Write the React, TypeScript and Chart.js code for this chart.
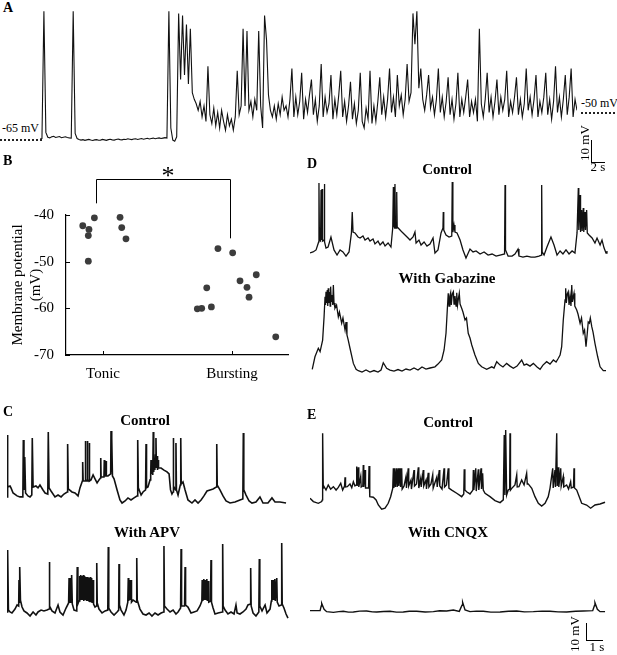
import React, { useEffect, useRef } from "react";
import { Chart, registerables } from "chart.js";

Chart.register(...registerables);

const SERIF = "'Liberation Serif', 'Times New Roman', Times, serif";
Chart.defaults.font.family = SERIF;
Chart.defaults.color = "#000";

type Pt = [number, number];

// ---------- Panel A: membrane potential (mV) sampled every A_DT seconds ----------
const A_DT = 0.3;
const traceA: number[] = [
  -65, -64.8, -7, -62,
  -64.2, -64.5, -64, -63.8, -64.3, -64.1, -63.9, -64.4, -64.2, -64, -64.3, -64.5, -64.6,
  -7, -62.5,
  -64.8, -65.2, -65.5, -65.3, -65.6, -65.4, -65.2, -65.5, -65.7, -65.4,
  -65.3, -65.6, -65.5, -65.2, -65.4, -65.6, -65.3, -65.1, -65.4, -65.5,
  -65.2, -65.0, -65.3, -65.4, -65.1, -65.2, -64.9, -65.1, -65.3, -65.0,
  -64.9, -65.2, -65.0, -64.8, -65.1, -64.9, -64.7, -65.0, -64.8, -64.6,
  -64.9, -64.7, -64.5, -64.8, -64.6, -64.4, -64.6,
  -7, -60, -65.5, -66, -64,
  -8, -38, -9, -36, -13, -40, -15, -44, -47,
  -49, -52, -48, -55, -50, -57, -32, -54, -58, -51,
  -59, -53, -60, -52, -57, -61, -54, -59, -56, -61,
  -55, -34, -54, -50, -15, -50, -16, -52, -48, -55,
  -47, -52, -16, -50, -60, -9, -20, -45, -52, -55,
  -50, -56, -49, -54, -46, -52, -50, -55,
  -47, -33, -55, -46, -54, -48, -35, -56, -47, -53,
  -45, -38, -54, -47, -57, -50, -31, -55, -46, -53,
  -49, -36, -56, -47, -54, -45, -34, -55, -48, -57,
  -50, -39, -56, -49, -58, -52, -35, -57, -60, -51,
  -56, -34, -58, -50, -57, -48, -37, -54, -46, -55,
  -47, -33, -53, -46, -55, -36, -50, -45, -54, -47,
  -31, -48, -44, -8, -22, -7, -42, -33, -47, -52,
  -45, -36, -51, -46, -54, -47, -33, -53, -46, -55,
  -48, -37, -54, -47, -56, -49, -35, -55, -47, -53,
  -46, -38, -55, -48, -53, -47, -57, -15, -49, -55,
  -47, -35, -53, -46, -55, -48, -38, -54, -46, -52,
  -47, -34, -55, -48, -53, -46, -37, -54, -47, -55,
  -49, -33, -52, -46, -54, -47, -36, -55, -48, -53,
  -46, -35, -54, -47, -56, -48, -32, -53, -46, -55,
  -47, -36, -54, -46, -33, -55, -47, -52,
];

// ---------- Panel B: resting membrane potential per cell ----------
const bCategories = ["Tonic", "Bursting"];
const bTicks = [-70, -60, -50, -40];
const tonicX = [0.843, 0.891, 0.886, 0.933, 0.886, 1.132, 1.145, 1.178];
const tonicY = [-42.3, -43.1, -44.4, -40.6, -49.9, -40.5, -42.7, -45.1];
const burstX = [1.731, 1.765, 1.804, 1.84, 1.891, 2.005, 2.062, 2.116, 2.132, 2.188, 2.339];
const burstY = [-60.1, -60.0, -55.6, -59.7, -47.2, -48.1, -54.1, -55.5, -57.6, -52.8, -66.1];
const bracketX = [0.946, 1.984];
const bracketY = [-37.5, -32.3, -45.0];

// ---------- Panels C, D, E: [time (s), mV] ----------
const cControl: Pt[] = [
  [0,-58.2],[0.02,-21.8],[0.06,-52.4],[0.19,-51.8],[0.25,-52.9],[0.38,-55.9],[0.63,-57.6],[0.81,-58.2],[0.99,-58.2],[1.02,-24.7],[1.06,-54.1],[1.11,-34.7],[1.16,-55.9],[1.31,-57.6],[1.44,-58.2],[1.55,-57.1],[1.58,-23.5],[1.63,-52.4],[1.81,-51.8],[1.94,-52.9],[2.06,-51.2],[2.25,-54.1],[2.38,-55.9],[2.55,-56.5],[2.58,-20],[2.63,-52.9],[2.75,-54.7],[3.0,-58.2],[3.19,-57.1],[3.38,-58.2],[3.56,-56.5],[3.76,-55.3],[3.79,-27.1],[3.83,-53.5],[4.06,-55.3],[4.25,-55.9],[4.44,-57.6],[4.56,-52.9],[4.71,-48.8],[4.73,-37.6],[4.76,-48.8],[4.88,-48.8],[4.89,-25.3],[4.93,-48.2],[5.0,-48.8],[5.02,-25.3],[5.05,-48.2],[5.13,-48.8],[5.14,-26.5],[5.17,-48.8],[5.25,-48.2],[5.38,-45.3],[5.5,-47.6],[5.63,-50],[5.75,-48.2],[5.84,-47.1],[5.86,-35.3],[5.88,-46.5],[6.06,-46.5],[6.08,-36.5],[6.11,-45.9],[6.17,-45.9],[6.19,-37.1],[6.21,-45.9],[6.31,-45.9],[6.48,-44.7],[6.5,-19.4],[6.53,-43.5],[6.56,-23.5],[6.59,-45.9],[6.69,-47.6],[6.88,-54.1],[7.06,-60],[7.19,-61.8],[7.38,-60.6],[7.56,-58.8],[7.75,-60],[7.94,-58.8],[8.14,-57.6],[8.17,-24.7],[8.21,-52.9],[8.38,-57.1],[8.5,-55.3],[8.66,-54.1],[8.69,-27.1],[8.72,-52.9],[8.81,-52.4],[8.94,-48.2],[8.98,-45.9],[9.0,-36.5],[9.03,-44.7],[9.08,-37.6],[9.11,-45.3],[9.14,-20],[9.17,-43.5],[9.21,-35.3],[9.24,-42.4],[9.28,-33.5],[9.31,-23.5],[9.34,-41.2],[9.38,-34.1],[9.41,-42.4],[9.44,-36.5],[9.47,-41.2],[9.63,-41.2],[9.81,-42.4],[10.0,-43.5],[10.13,-44.7],[10.22,-54.1],[10.31,-56.5],[10.38,-55.3],[10.39,-23.5],[10.42,-51.8],[10.53,-54.1],[10.56,-26.5],[10.59,-54.1],[10.69,-57.1],[10.83,-51.2],[10.86,-23.5],[10.89,-50.6],[11.0,-49.4],[11.13,-54.1],[11.31,-60],[11.56,-61.8],[11.75,-60],[11.94,-61.8],[12.13,-60],[12.31,-57.6],[12.5,-54.7],[12.69,-54.1],[12.88,-53.5],[13.08,-52.4],[13.11,-27.1],[13.14,-51.2],[13.31,-54.1],[13.5,-57.6],[13.69,-60.6],[13.94,-61.8],[14.25,-61.2],[14.56,-60],[14.74,-59.4],[14.77,-20.6],[14.8,-54.1],[14.94,-57.1],[15.13,-60.6],[15.31,-61.8],[15.56,-61.2],[15.81,-58.2],[16.0,-61.8],[16.31,-61.8],[16.56,-58.8],[16.75,-61.2],[17.06,-61.2],[17.44,-61.8],
];

const cApv: Pt[] = [
  [0,-58.2],[0.04,-21.8],[0.09,-57.1],[0.19,-58.2],[0.31,-58.8],[0.5,-56.5],[0.63,-54.1],[0.73,-54.7],[0.75,-39.4],[0.78,-52.9],[0.81,-31.8],[0.84,-51.2],[0.94,-55.3],[1.06,-57.6],[1.25,-58.8],[1.44,-60.6],[1.63,-58.2],[1.81,-60],[1.94,-58.2],[2.13,-57.1],[2.31,-57.6],[2.5,-57.1],[2.63,-56.5],[2.64,-28.8],[2.68,-54.7],[2.81,-57.6],[3.0,-58.8],[3.19,-54.1],[3.31,-58.2],[3.5,-60],[3.69,-55.9],[3.85,-52.9],[3.88,-38.2],[3.9,-52.9],[3.97,-38.2],[4.0,-52.4],[4.04,-36.5],[4.08,-53.5],[4.19,-57.1],[4.36,-57.6],[4.39,-31.8],[4.43,-53.5],[4.5,-51.8],
  [4.53,-37.1],[4.56,-51.8],[4.61,-36.5],[4.64,-51.2],[4.69,-37.1],[4.72,-51.2],[4.77,-36.5],[4.8,-51.8],[4.85,-37.1],[4.88,-51.2],[4.94,-37.6],[4.97,-51.8],[5.03,-37.6],[5.06,-51.8],[5.11,-38.2],[5.14,-52.4],[5.2,-37.6],[5.23,-52.4],[5.29,-38.2],[5.32,-52.9],[5.38,-39.4],[5.41,-53.5],[5.5,-55.3],[5.58,-54.7],[5.61,-29.4],[5.64,-52.9],[5.75,-56.5],[5.94,-58.8],[6.13,-57.6],[6.3,-57.1],[6.33,-20],[6.36,-55.9],[6.5,-58.2],[6.69,-60],[6.88,-58.2],[6.98,-57.1],[7.0,-30],[7.03,-54.1],[7.13,-57.1],[7.31,-60],[7.44,-57.1],[7.55,-52.4],[7.58,-38.2],[7.61,-51.8],[7.66,-39.4],[7.7,-51.2],[7.75,-39.4],[7.78,-52.4],[7.88,-51.2],[8.08,-52.4],[8.11,-26.5],[8.14,-51.2],[8.31,-56.5],[8.5,-59.4],[8.69,-60],[8.88,-58.8],[9.06,-60.6],[9.25,-58.8],[9.44,-60],[9.63,-58.8],[9.79,-58.2],[9.81,-19.4],[9.84,-54.7],[10.0,-56.5],[10.19,-58.2],[10.38,-57.1],[10.56,-59.4],[10.69,-58.2],[10.85,-55.9],[10.88,-21.2],[10.91,-54.7],[11.1,-54.7],[11.13,-31.8],[11.16,-54.1],[11.31,-55.3],[11.5,-58.8],[11.69,-58.2],[11.88,-57.6],[12.06,-54.7],[12.18,-51.8],[12.2,-39.4],[12.24,-51.8],[12.3,-38.8],[12.33,-51.2],[12.39,-39.4],[12.42,-51.2],[12.49,-38.8],[12.52,-51.8],[12.58,-40],[12.61,-52.4],[12.72,-51.8],[12.75,-27.6],[12.78,-52.4],[12.88,-55.9],[13.0,-59.4],[13.19,-58.8],[13.46,-58.2],[13.48,-18.2],[13.51,-54.7],[13.63,-57.1],[13.81,-59.4],[14.0,-58.2],[14.19,-59.4],[14.31,-54.1],[14.38,-58.8],[14.56,-59.4],[14.75,-58.2],[14.94,-56.5],[15.06,-54.1],[15.21,-53.5],[15.23,-32.4],[15.26,-54.7],[15.38,-58.8],[15.56,-60.6],[15.74,-58.2],[15.77,-27.1],[15.8,-54.7],[15.94,-57.6],[16.13,-54.1],[16.25,-58.8],[16.44,-56.5],[16.52,-51.8],[16.55,-39.4],[16.58,-51.2],[16.64,-39.4],[16.67,-51.2],[16.74,-38.8],[16.77,-51.8],[16.86,-38.2],[16.89,-52.4],[17.0,-54.7],[17.14,-54.1],[17.17,-17.6],[17.2,-53.5],[17.31,-55.9],[17.44,-59.4],[17.56,-61.8],
];

const dControl: Pt[] = [
  [0,-59.4],[0.19,-58.8],[0.38,-57.6],[0.54,-52.9],[0.56,-18.2],[0.59,-51.8],[0.66,-52.4],[0.69,-22.4],[0.72,-51.8],[0.75,-21.8],[0.79,-52.4],[0.88,-51.8],[0.89,-18.8],[0.93,-52.9],[1.0,-56.5],[1.13,-55.9],[1.31,-50],[1.5,-57.6],[1.69,-60.6],[1.88,-57.6],[2.06,-58.8],[2.25,-61.2],[2.44,-58.8],[2.59,-47.6],[2.64,-35.3],[2.69,-47.1],[2.81,-47.6],[3.0,-50],[3.13,-50.6],[3.31,-49.4],[3.44,-51.8],[3.63,-50.6],[3.75,-52.4],[3.94,-51.2],[4.06,-54.1],[4.25,-52.4],[4.38,-54.7],[4.56,-52.9],[4.69,-55.3],[4.88,-53.5],[5.06,-55.9],[5.17,-44.7],[5.21,-20.6],[5.24,-43.5],[5.29,-44.7],[5.31,-18.8],[5.34,-42.9],[5.39,-44.7],[5.42,-23.5],[5.45,-44.1],[5.63,-45.9],[5.75,-47.1],[5.94,-48.8],[6.13,-50.6],[6.25,-51.8],[6.44,-50],[6.56,-47.1],[6.63,-53.5],[6.81,-51.8],[6.94,-54.7],[7.13,-52.9],[7.31,-55.3],[7.5,-54.1],[7.69,-50.6],[7.81,-59.4],[8.0,-57.6],[8.19,-47.6],[8.31,-44.7],[8.33,-35.3],[8.36,-45.9],[8.5,-48.8],[8.69,-50],[8.86,-49.4],[8.89,-17.6],[8.93,-47.1],[9.0,-42.9],[9.06,-47.1],[9.19,-47.6],[9.38,-51.8],[9.56,-57.6],[9.75,-62.4],[10.0,-57.1],[10.19,-58.8],[10.38,-58.2],[10.63,-60],[10.88,-58.8],[11.13,-60.6],[11.38,-60],[11.63,-61.2],[11.88,-60.6],[12.16,-60],[12.19,-19.4],[12.22,-57.6],[12.38,-61.2],[12.63,-61.2],[12.81,-60],[13.0,-57.1],[13.06,-61.2],[13.31,-61.8],[13.56,-61.2],[13.81,-61.8],[14.06,-61.8],[14.31,-61.2],[14.46,-60.6],[14.48,-19.4],[14.51,-58.8],[14.63,-60.6],[14.81,-55.9],[15.06,-50],[15.25,-54.7],[15.44,-60.6],[15.63,-58.2],[15.81,-60],[16.0,-57.6],[16.19,-60],[16.38,-58.2],[16.56,-59.4],[16.69,-47.6],[16.77,-21.2],[16.8,-45.9],[16.88,-25.3],[16.91,-47.1],[16.98,-34.1],[17.01,-46.5],[17.08,-32.9],[17.11,-47.1],[17.19,-35.3],[17.22,-45.9],[17.29,-34.1],[17.33,-47.6],[17.44,-48.8],[17.63,-50.6],[17.81,-53.5],[17.94,-50.6],[18.13,-54.7],[18.25,-51.8],[18.38,-56.5],[18.5,-59.4],[18.56,-58.2],
];

const dGabazine: Pt[] = [
  [0.14,-59],[0.31,-51.6],[0.52,-46.6],[0.63,-48.6],[0.79,-41.8],[0.88,-28.1],[0.94,-16.3],[0.97,-21.2],[1.0,-13.4],[1.04,-20],[1.08,-12.4],[1.11,-21.8],[1.14,-11.4],[1.18,-20],[1.23,-13.5],[1.26,-21.8],[1.29,-10.4],[1.33,-19.4],[1.38,-15.3],[1.42,-21.2],[1.46,-9.4],[1.5,-20],[1.56,-23.1],[1.66,-21.2],[1.77,-28.1],[1.84,-25.3],[1.98,-31.9],[2.06,-28.8],[2.19,-35.9],[2.25,-31.2],[2.31,-38.8],[2.39,-41.8],[2.5,-46.6],[2.71,-55.5],[2.88,-59],[3.02,-59.8],[3.25,-60.6],[3.5,-59.4],[3.75,-60.6],[4.0,-59.7],[4.25,-60.6],[4.44,-59.4],[4.58,-55.1],[4.79,-58.4],[5.0,-59.4],[5.25,-60],[5.5,-59.1],[5.75,-60],[6.0,-58.8],[6.25,-59.4],[6.5,-58.2],[6.75,-59.4],[7.0,-57.6],[7.25,-58.8],[7.5,-58.2],[7.81,-57.5],[8.0,-55.9],[8.23,-53.5],[8.38,-47.6],[8.5,-37.8],[8.58,-24.1],[8.64,-14.3],[8.69,-21.8],[8.74,-15.9],[8.79,-14],[8.83,-21.2],[8.89,-14.7],[8.96,-13.4],[9.0,-20.6],[9.06,-15.9],[9.13,-21.8],[9.17,-14],[9.22,-21.2],[9.28,-17.1],[9.33,-14.3],[9.38,-20.6],[9.48,-23.1],[9.56,-25.3],[9.69,-30],[9.78,-28.8],[9.89,-37.8],[10.0,-40.6],[10.11,-44.7],[10.31,-50.6],[10.52,-55.5],[10.73,-57.5],[11.04,-59],[11.36,-57.5],[11.5,-58.2],[11.67,-54.5],[11.88,-56.5],[12.06,-57.6],[12.29,-55.5],[12.5,-57.1],[12.71,-58.4],[12.94,-57.1],[13.23,-53.5],[13.38,-56.5],[13.54,-55.9],[13.75,-57.1],[13.96,-55.5],[14.19,-57.6],[14.38,-59],[14.56,-56.5],[14.79,-54.5],[15.0,-55.9],[15.21,-53.5],[15.38,-54.7],[15.52,-52.5],[15.63,-50.6],[15.73,-45.7],[15.83,-30],[15.94,-18.2],[15.98,-11.4],[16.02,-20],[16.08,-14.7],[16.14,-13.4],[16.19,-21.2],[16.25,-15.9],[16.31,-21.8],[16.36,-9.4],[16.4,-19.4],[16.45,-16.5],[16.5,-14.3],[16.55,-21.8],[16.67,-24.1],[16.75,-26.5],[16.88,-31.9],[16.97,-28.8],[17.08,-37.8],[17.16,-35.9],[17.25,-45.7],[17.33,-37.8],[17.39,-31.2],[17.46,-31.9],[17.52,-28.8],[17.61,-33.9],[17.69,-37.1],[17.81,-43.7],[17.98,-51.6],[18.13,-57.5],[18.33,-59.8],[18.5,-59.8],
];

const eControl: Pt[] = [
  [0,-57.2],[0.21,-59.2],[0.52,-60.2],[0.73,-59.2],[0.77,-58.2],[0.79,-19],[0.83,-51.2],[0.88,-50.4],[1.0,-52.4],[1.14,-49.4],[1.29,-51.9],[1.46,-50.4],[1.63,-52.4],[1.77,-50.8],[1.92,-48.4],[2.04,-52.4],[2.16,-50],[2.19,-44.9],[2.22,-50.6],[2.33,-50.4],[2.5,-48.8],[2.61,-51],[2.71,-47.5],[2.81,-50],[2.89,-49.4],[2.92,-38.6],[2.95,-50],[3.02,-39],[3.05,-50.6],[3.17,-44.5],[3.2,-50.6],[3.3,-50],[3.33,-37.6],[3.36,-50.6],[3.44,-40.6],[3.47,-51.2],[3.66,-51.2],[3.69,-38.2],[3.72,-53.5],[3.75,-56.3],[3.96,-56.6],[4.13,-58.2],[4.27,-61.2],[4.48,-63.7],[4.69,-63.1],[4.89,-60.2],[5.04,-56.3],[5.17,-51.4],[5.21,-39.6],[5.24,-51.2],[5.31,-39.6],[5.34,-50.6],[5.42,-39.6],[5.45,-50.6],[5.52,-39.6],[5.55,-50],[5.63,-39.6],[5.66,-50.6],[5.73,-39.6],[5.76,-51.8],[5.88,-50],[6.0,-44.5],[6.03,-51.2],[6.14,-39.6],[6.17,-50],[6.31,-46.5],[6.34,-51.8],[6.5,-40.6],[6.53,-50],[6.66,-48.8],[6.77,-39],[6.8,-51.2],[6.92,-45.5],[6.95,-50.6],[7.08,-40.6],[7.11,-50],[7.25,-46.5],[7.28,-51.8],[7.39,-42.2],[7.43,-50.6],[7.56,-48.8],[7.67,-43.5],[7.7,-51.2],[7.92,-44.9],[7.95,-50.6],[8.08,-40.6],[8.11,-50],[8.25,-51.8],[8.38,-39.6],[8.41,-50.6],[8.53,-49.4],[8.64,-39.6],[8.68,-51.2],[8.86,-52.4],[9.17,-54.3],[9.48,-56.3],[9.61,-54.7],[9.64,-40.2],[9.68,-52.4],[9.79,-53.4],[10.0,-54.7],[10.18,-52.4],[10.21,-40.6],[10.24,-52.4],[10.36,-39.6],[10.39,-53],[10.52,-40.2],[10.55,-52.4],[10.69,-39.6],[10.72,-51.8],[10.79,-42.5],[10.83,-52.4],[10.94,-54.3],[11.25,-56.3],[11.56,-58.6],[11.88,-59.8],[12.08,-58.2],[12.14,-20],[12.18,-55.3],[12.23,-17.1],[12.29,-55.3],[12.39,-52.4],[12.48,-51.8],[12.5,-19],[12.53,-52.4],[12.61,-51.4],[12.81,-49.4],[12.92,-43.5],[12.95,-50.6],[13.06,-50.4],[13.23,-46.5],[13.38,-49.4],[13.54,-42.5],[13.58,-48.8],[13.64,-48.8],[13.86,-51.4],[14.06,-56.3],[14.27,-60.2],[14.48,-61.8],[14.69,-60.2],[14.89,-56.3],[15.0,-51.4],[15.17,-39.6],[15.2,-51.2],[15.31,-40.6],[15.34,-50.6],[15.42,-19],[15.45,-50],[15.52,-39],[15.55,-50.6],[15.67,-39.6],[15.7,-50],[15.83,-44.5],[15.86,-50.6],[16.04,-49.4],[16.16,-51.8],[16.29,-47.5],[16.33,-51.2],[16.47,-50.6],[16.5,-39.6],[16.53,-51.2],[16.67,-52.4],[16.98,-60.2],[17.29,-61.2],[17.54,-63.1],[17.81,-61.2],[18.13,-60.6],[18.44,-59.6],
];

const eCnqx: Pt[] = [
  [0,-59.2],[0.63,-59.2],[0.7,-56.5],[0.73,-54.9],[0.88,-58.4],[1.04,-59.8],[1.46,-60.2],[1.8,-59.8],[2.08,-59.6],[2.4,-60.1],[2.71,-60],[3.1,-59.5],[3.54,-59.4],[3.9,-59.9],[4.17,-60],[4.6,-59.7],[5.0,-59.6],[5.4,-60.1],[5.83,-60],[6.2,-59.6],[6.67,-59.6],[7.2,-60],[7.71,-59.8],[8.1,-59.3],[8.54,-59.4],[8.96,-58.8],[9.33,-59.6],[9.5,-56],[9.54,-54.3],[9.69,-58.8],[10.0,-59.8],[10.4,-59.5],[10.83,-59.6],[11.3,-60.1],[11.88,-60],[12.4,-59.6],[12.92,-59.4],[13.4,-59.9],[13.96,-59.8],[14.5,-59.5],[15.0,-59.6],[15.5,-59.9],[16.04,-60],[16.6,-59.6],[17.08,-59.4],[17.67,-59.2],[17.78,-56.2],[17.81,-54.5],[17.96,-58.4],[18.13,-59.8],[18.44,-59.8],
];

// ---------- components ----------
function Trace(props: {
  data: Pt[]; left: number; top: number; width: number; height: number;
  xMax: number; yMin: number; yMax: number; lineWidth: number;
}) {
  const ref = useRef<HTMLCanvasElement>(null);
  const { data, left, top, width, height, xMax, yMin, yMax, lineWidth } = props;
  useEffect(() => {
    const chart = new Chart(ref.current as HTMLCanvasElement, {
      type: "scatter",
      data: {
        datasets: [
          {
            data: data.map(([x, y]) => ({ x, y })),
            showLine: true,
            borderColor: "#111",
            borderWidth: lineWidth,
            pointRadius: 0,
            tension: 0,
            clip: false,
            borderJoinStyle: "miter",
          } as any,
        ],
      },
      options: {
        animation: false,
        responsive: false,
        devicePixelRatio: 1,
        events: [],
        layout: { padding: 0 },
        plugins: { legend: { display: false }, tooltip: { enabled: false } },
        scales: {
          x: { type: "linear", display: false, min: 0, max: xMax },
          y: { type: "linear", display: false, min: yMin, max: yMax },
        },
      },
    });
    return () => chart.destroy();
  }, []);
  return (
    <canvas
      ref={ref}
      width={width}
      height={height}
      style={{ position: "absolute", left, top, width, height }}
    />
  );
}

function ScatterB() {
  const ref = useRef<HTMLCanvasElement>(null);
  useEffect(() => {
    const extras = {
      id: "bExtras",
      afterDraw(chart: any) {
        const { ctx } = chart;
        const x = chart.scales.x;
        const y = chart.scales.y;
        ctx.save();
        ctx.strokeStyle = "#000";
        ctx.lineWidth = 1;
        ctx.beginPath();
        bTicks.forEach((v) => {
          const py = Math.round(y.getPixelForValue(v)) + 0.5;
          ctx.moveTo(x.left, py);
          ctx.lineTo(x.left + 4, py);
        });
        bCategories.forEach((_, i) => {
          const px = Math.round(x.getPixelForValue(i + 1)) + 0.5;
          ctx.moveTo(px, y.bottom);
          ctx.lineTo(px, y.bottom - 4);
        });
        ctx.stroke();
        const x0 = Math.round(x.getPixelForValue(bracketX[0])) + 0.5;
        const x1 = Math.round(x.getPixelForValue(bracketX[1])) + 0.5;
        const yTop = Math.round(y.getPixelForValue(bracketY[1])) + 0.5;
        ctx.beginPath();
        ctx.moveTo(x0, y.getPixelForValue(bracketY[0]));
        ctx.lineTo(x0, yTop);
        ctx.lineTo(x1, yTop);
        ctx.lineTo(x1, y.getPixelForValue(bracketY[2]));
        ctx.stroke();
        ctx.restore();
      },
    };
    const pointStyle = {
      backgroundColor: "#3c3c3c",
      borderWidth: 0,
      pointRadius: 3.4,
      clip: false,
    };
    const chart = new Chart(ref.current as HTMLCanvasElement, {
      type: "scatter",
      data: {
        datasets: [
          { label: "Tonic", data: tonicX.map((x, i) => ({ x, y: tonicY[i] })), ...pointStyle } as any,
          { label: "Bursting", data: burstX.map((x, i) => ({ x, y: burstY[i] })), ...pointStyle } as any,
        ],
      },
      options: {
        animation: false,
        responsive: false,
        devicePixelRatio: 1,
        events: [],
        layout: { padding: { top: 55, right: 12, left: 0, bottom: 0 } },
        plugins: { legend: { display: false }, tooltip: { enabled: false } },
        scales: {
          x: {
            type: "linear",
            min: 0.713,
            max: 2.434,
            afterBuildTicks: (s: any) => {
              s.ticks = bCategories.map((_, i) => ({ value: i + 1 }));
            },
            afterFit: (s: any) => {
              s.height = 35;
            },
            ticks: {
              autoSkip: false,
              maxRotation: 0,
              padding: 2,
              color: "#000",
              font: { size: 15, family: SERIF },
              callback: (v: any) => bCategories[Math.round(Number(v)) - 1] ?? "",
            },
            grid: { display: false },
            border: { display: true, color: "#000", width: 1.2 },
          },
          y: {
            type: "linear",
            min: -70,
            max: -40,
            afterBuildTicks: (s: any) => {
              s.ticks = bTicks.map((v) => ({ value: v }));
            },
            afterFit: (s: any) => {
              s.width = 66;
            },
            ticks: {
              padding: 4,
              color: "#000",
              font: { size: 15, family: SERIF },
            },
            title: {
              display: true,
              text: ["Membrane potential", "(mV)"],
              color: "#000",
              font: { size: 15, family: SERIF },
              padding: { top: 9, bottom: 0 },
            },
            grid: { display: false },
            border: { display: true, color: "#000", width: 1.2 },
          },
        },
      },
      plugins: [extras],
    });
    return () => chart.destroy();
  }, []);
  return (
    <canvas
      ref={ref}
      width={300}
      height={230}
      style={{ position: "absolute", left: 0, top: 160, width: 300, height: 230 }}
    />
  );
}

function Label(props: {
  x: number; y: number; size: number; bold?: boolean; align?: "left" | "center";
  children: React.ReactNode;
}) {
  const { x, y, size, bold, align = "left", children } = props;
  const style: React.CSSProperties = {
    position: "absolute",
    top: y - 0.8375 * size,
    fontSize: size,
    lineHeight: `${size}px`,
    fontWeight: bold ? "bold" : "normal",
    whiteSpace: "nowrap",
    fontFamily: SERIF,
    color: "#000",
  };
  if (align === "center") {
    style.left = x - 150;
    style.width = 300;
    style.textAlign = "center";
  } else {
    style.left = x;
  }
  return <div style={style}>{children}</div>;
}

function VLabel(props: { cx: number; cy: number; size: number; children: React.ReactNode }) {
  const { cx, cy, size, children } = props;
  return (
    <div
      style={{
        position: "absolute",
        left: cx,
        top: cy,
        fontSize: size,
        lineHeight: `${size}px`,
        whiteSpace: "nowrap",
        fontFamily: SERIF,
        transform: "translate(-50%, -50%) rotate(-90deg)",
      }}
    >
      {children}
    </div>
  );
}

function Dotted(props: { x: number; y: number; w: number }) {
  return (
    <div
      style={{
        position: "absolute",
        left: props.x,
        top: props.y - 1,
        width: props.w,
        height: 0,
        borderTop: "2px dotted #222",
      }}
    />
  );
}

function ScaleBar(props: { x: number; y: number; w: number; h: number }) {
  return (
    <div
      style={{
        position: "absolute",
        left: props.x,
        top: props.y,
        width: props.w,
        height: props.h,
        borderLeft: "1.5px solid #000",
        borderBottom: "1.5px solid #000",
        boxSizing: "border-box",
      }}
    />
  );
}

export default function App() {
  const aData: Pt[] = traceA.map((v, i) => [i * A_DT, v]);
  return (
    <div
      style={{
        position: "absolute",
        left: 0,
        top: 0,
        width: 617,
        height: 655,
        background: "#fff",
        overflow: "hidden",
        fontFamily: SERIF,
      }}
    >
      {/* Panel A */}
      <Label x={3} y={12.5} size={14} bold>A</Label>
      <Trace data={aData} left={40} top={9} width={537} height={141} xMax={(traceA.length - 1) * A_DT} yMin={-70} yMax={-6} lineWidth={1.1} />
      <Label x={2} y={132} size={12}>-65 mV</Label>
      <Dotted x={0} y={140} w={42} />
      <Label x={581} y={107} size={12}>-50 mV</Label>
      <Dotted x={581} y={113} w={34} />
      <ScaleBar x={591} y={140} w={14} h={23} />
      <VLabel cx={584} cy={143} size={13}>10 mV</VLabel>
      <Label x={598} y={171} size={13} align="center">2 s</Label>

      {/* Panel B */}
      <ScatterB />
      <Label x={3} y={166} size={14} bold>B</Label>
      <Label x={168} y={185} size={26} align="center">*</Label>

      {/* Panel D */}
      <Label x={307} y={168.5} size={14} bold>D</Label>
      <Label x={447} y={175} size={15} bold align="center">Control</Label>
      <Trace data={dControl} left={310} top={178} width={298} height={84} xMax={18.625} yMin={-64.7} yMax={-15.3} lineWidth={1.3} />
      <Label x={447} y={284} size={15} bold align="center">With Gabazine</Label>
      <Trace data={dGabazine} left={310} top={280} width={298} height={96} xMax={18.625} yMin={-62.9} yMax={-6.5} lineWidth={1.3} />

      {/* Panel C */}
      <Label x={3} y={417} size={14} bold>C</Label>
      <Label x={145} y={426} size={15} bold align="center">Control</Label>
      <Trace data={cControl} left={7} top={428} width={282} height={82} xMax={17.625} yMin={-65.9} yMax={-17.65} lineWidth={1.6} />
      <Label x={147} y={538} size={15} bold align="center">With APV</Label>
      <Trace data={cApv} left={7} top={540} width={282} height={82} xMax={17.625} yMin={-64.1} yMax={-15.9} lineWidth={1.6} />

      {/* Panel E */}
      <Label x={307} y={420} size={14} bold>E</Label>
      <Label x={448} y={428} size={15} bold align="center">Control</Label>
      <Trace data={eControl} left={310} top={425} width={298} height={89} xMax={18.625} yMin={-66.5} yMax={-14.1} lineWidth={1.4} />
      <Label x={448} y={538} size={15} bold align="center">With CNQX</Label>
      <Trace data={eCnqx} left={310} top={596} width={298} height={24} xMax={18.625} yMin={-64.7} yMax={-50.6} lineWidth={1.4} />
      <ScaleBar x={586} y={623} w={17} h={18} />
      <VLabel cx={574} cy={634} size={13}>10 mV</VLabel>
      <Label x={597} y={651} size={13} align="center">1 s</Label>
    </div>
  );
}
